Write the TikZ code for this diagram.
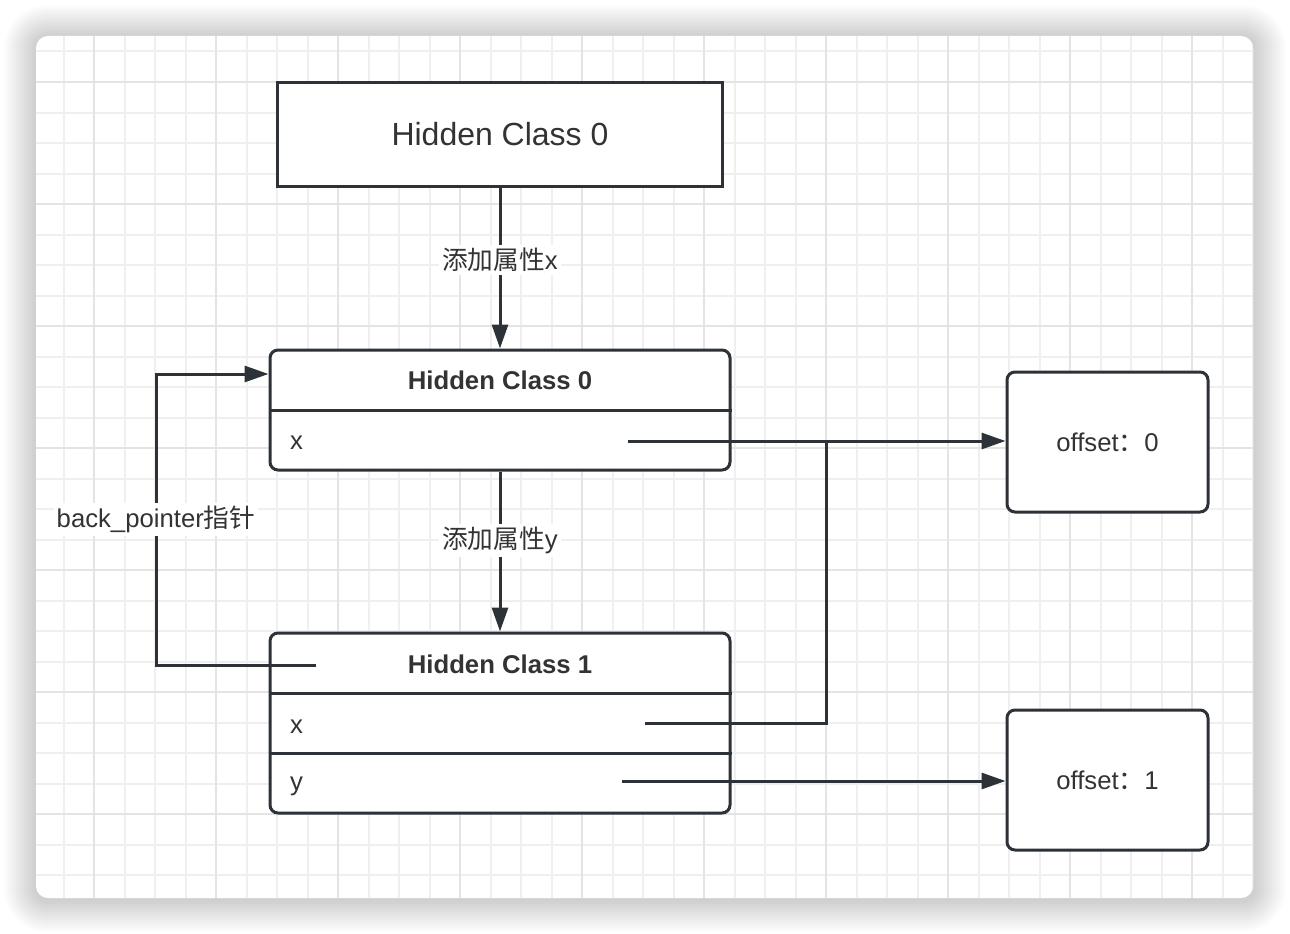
\documentclass[tikz,border=0pt]{standalone}
\usepackage{fontspec}
\setmainfont{Liberation Sans}
\newfontfamily\cjk{Noto Sans CJK SC}
\usetikzlibrary{arrows.meta}

\definecolor{linegray}{RGB}{44,50,56}
\definecolor{textgray}{RGB}{51,51,51}
\definecolor{gridminor}{RGB}{239,239,239}
\definecolor{gridmajor}{RGB}{228,228,228}

\begin{document}
\begin{tikzpicture}[
        x=1pt, y=-1pt,
        every node/.style={text=textgray, font=\fontsize{25.7}{30}\selectfont},
        card/.style={rounded corners=12pt},
        gridline/.style={line width=2pt},
        conn/.style={draw=linegray, line width=3pt},
        arr/.style={conn, -{Triangle[length=24pt, width=16pt]}},
        plainbox/.style={draw=linegray, line width=3pt, fill=white, minimum width=445pt, minimum height=104pt, font=\fontsize{32}{36}\selectfont},
        classbox/.style={draw=linegray, line width=3pt, fill=white, rounded corners=8pt, minimum width=460pt},
        offbox/.style={draw=linegray, line width=3pt, fill=white, rounded corners=8pt, minimum width=201pt, minimum height=140pt},
        title/.style={font=\fontsize{25.7}{30}\selectfont\bfseries, inner sep=0pt, anchor=base},
        field/.style={inner sep=0pt, anchor=base west},
        lbl/.style={fill=white, inner sep=3pt}
    ]
	\useasboundingbox (0,0) rectangle (1290,934);
	\foreach \i in {16,15,...,1}
		{
		   \pgfmathsetmacro\rr{12+2*\i}
		   \fill[black, opacity=0.011, rounded corners=\rr pt] (36-2*\i,36-2*\i+1) rectangle (1253+2*\i+1,898+2*\i+2);
		};
	\fill[white, card] (36,36) rectangle (1253,898);
	\begin{scope}
		\clip[card] (36,36) rectangle (1253,898);
		\foreach \k in {1,...,41}
			{
			   \draw[gridline, gridminor] (2.5+30.5*\k,36) -- (2.5+30.5*\k,898);
			};
		\foreach \k in {1,...,28}
			{
			   \draw[gridline, gridminor] (36,21+30.5*\k) -- (1253,21+30.5*\k);
			};
		\foreach \k in {0,...,9}
			{
			   \draw[gridline, gridmajor] (94+122*\k,36) -- (94+122*\k,898);
			};
		\foreach \k in {0,...,6}
			{
			   \draw[gridline, gridmajor] (36,82+122*\k) -- (1253,82+122*\k);
			};
	\end{scope}

	\node[plainbox] (start) at (500,134) {Hidden Class 0};

	\node[classbox, minimum height=120pt] (hcA) at (500,410) {};
	\draw[conn] (hcA.west |- 0,410) -- (hcA.east |- 0,410);
	\node[title] (hcAname) at (500,389) {Hidden Class 0};
	\node[field] (hcAx) at (290,449) {x};

	\node[classbox, minimum height=180pt] (hcB) at (500,723) {};
	\draw[conn] (hcB.west |- 0,693) -- (hcB.east |- 0,693);
	\draw[conn] (hcB.west |- 0,753) -- (hcB.east |- 0,753);
	\node[title] (hcBname) at (500,673) {Hidden Class 1};
	\node[field] (hcBx) at (290,733) {x};
	\node[field] (hcBy) at (290,790) {y};

	\node[offbox] (offA) at (1107.5,442) {offset{\cjk ：}0};
	\node[offbox] (offB) at (1107.5,780) {offset{\cjk ：}1};

	\coordinate (axout) at (628,441);
	\coordinate (bxout) at (645,723);
	\coordinate (byout) at (622,781);
	\coordinate (bback) at (316,665);
	\coordinate (join) at (826,441);
	\coordinate (turn) at (156,374);

	\draw[arr] (start) -- node[lbl, pos=0.45] (addx) {{\cjk 添加属性}x} (hcA);
	\draw[arr] (hcA) -- node[lbl, pos=0.43] (addy) {{\cjk 添加属性}y} (hcB);
	\draw[arr] (axout) -- (axout -| offA.west);
	\draw[conn] (bxout) -| (join);
	\draw[arr] (byout) -- (byout -| offB.west);
	\draw[arr] (bback) -| node[lbl, pos=0.75] (backlbl) {back\_pointer{\cjk 指针}} (turn) -- (turn -| hcA.west);
\end{tikzpicture}
\end{document}
